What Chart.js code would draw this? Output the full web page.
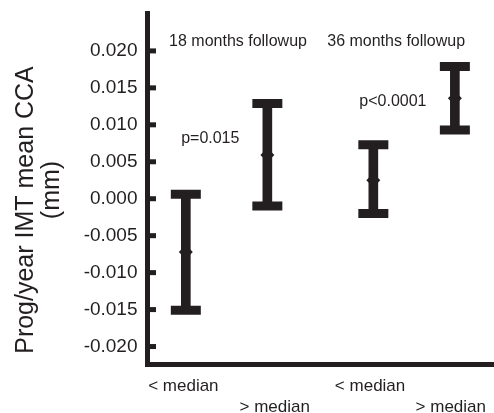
<!DOCTYPE html>
<html>
<head>
<meta charset="utf-8">
<script src="https://cdn.jsdelivr.net/npm/chart.js@4"></script>
<style>
  body { margin: 0; background: #fff; }
  canvas { display: block; }
</style>
</head>
<body>
<canvas id="chart" width="494" height="413"></canvas>
<script>
const ink = "#231f20";
const family = "'Liberation Sans', Arial, sans-serif";

// four groups: below / above median, 18 and 36 months followup
const xLabels = ["< median", "> median", "< median", "> median"];
const xPos = [1, 2, 3.3, 4.3];
const labelPos = [0.97, 2.09, 3.26, 4.25];
const means = [-0.0072, 0.0059, 0.0025, 0.0136];
const lows = [-0.0151, -0.0010, -0.0020, 0.0093];
const highs = [0.0006, 0.0129, 0.0073, 0.0179];
const yTicks = [-0.020, -0.015, -0.010, -0.005, 0, 0.005, 0.010, 0.015, 0.020];

// text notes placed in data units
const noteTexts = ["18 months followup", "36 months followup", "p=0.015", "p<0.0001"];
const noteX = [1.64, 3.58, 1.30, 3.54];
const noteY = [0.0213, 0.0213, 0.0082, 0.0132];

const yTitle = ["Prog/year IMT mean CCA", "(mm)"];

Chart.defaults.font.family = family;
Chart.defaults.color = ink;

const extras = {
  id: "extras",
  afterDraw(chart) {
    const { ctx, scales: { x, y } } = chart;
    ctx.save();
    ctx.fillStyle = ink;
    // tick marks point inwards
    yTicks.forEach(v => {
      const py = y.getPixelForValue(v);
      ctx.fillRect(x.left + 2.5, py - 2.5, 6, 5);
    });
    ctx.fillRect(x.left - 2.5, y.bottom - 2.5, 5, 5);

    ctx.font = "16px " + family;
    ctx.textAlign = "center";
    ctx.textBaseline = "middle";
    noteTexts.forEach((t, i) => {
      ctx.fillText(t, x.getPixelForValue(noteX[i]), y.getPixelForValue(noteY[i]));
    });

    ctx.font = "25px " + family;
    ctx.textBaseline = "alphabetic";
    ctx.save();
    ctx.translate(33, 210);
    ctx.rotate(-Math.PI / 2);
    ctx.fillText(yTitle[0], 0, 0);
    ctx.restore();
    ctx.save();
    ctx.translate(59, 190);
    ctx.rotate(-Math.PI / 2);
    ctx.fillText(yTitle[1], 0, 0);
    ctx.restore();
    ctx.restore();
  }
};

new Chart(document.getElementById("chart"), {
  type: "bar",
  data: {
    datasets: [
      {
        type: "scatter",
        data: xPos.map((x, i) => ({ x, y: means[i] })),
        pointStyle: "rectRot",
        radius: 7,
        borderWidth: 0,
        backgroundColor: ink,
        order: 0
      },
      {
        type: "scatter",
        data: xPos.flatMap((x, i) => [{ x, y: lows[i] }, { x, y: highs[i] }]),
        pointStyle: "line",
        radius: 15,
        borderWidth: 9,
        borderColor: ink,
        order: 1
      },
      {
        type: "bar",
        data: xPos.map((x, i) => ({ x, y: [lows[i], highs[i]] })),
        backgroundColor: ink,
        barThickness: 9,
        order: 2
      }
    ]
  },
  options: {
    responsive: false,
    animation: false,
    events: [],
    layout: { autoPadding: false, padding: { top: 13, right: 0, left: 0, bottom: 0 } },
    plugins: { legend: { display: false }, tooltip: { enabled: false } },
    scales: {
      x: {
        type: "linear",
        min: 0.53,
        max: 4.78,
        offset: false,
        grid: { display: false, drawTicks: false },
        border: { display: true, width: 5, color: ink },
        afterFit: s => { s.height = 48.5; s.paddingLeft = 0; s.paddingRight = 0; },
        afterBuildTicks: s => { s.ticks = labelPos.map(v => ({ value: v })); },
        ticks: {
          autoSkip: false,
          maxRotation: 0,
          padding: 11,
          font: { size: 17, lineHeight: 21 / 17 },
          callback: (v, i) => (i % 2 === 0 ? [xLabels[i], ""] : ["", xLabels[i]])
        }
      },
      y: {
        min: -0.02243,
        max: 0.02513,
        grid: { display: false, drawTicks: false },
        border: { display: true, width: 5, color: ink },
        afterFit: s => { s.width = 147.5; s.paddingTop = 0; s.paddingBottom = 0; },
        afterBuildTicks: s => { s.ticks = yTicks.map(v => ({ value: v })); },
        ticks: {
          padding: 10,
          font: { size: 19 },
          callback: v => v.toFixed(3)
        }
      }
    }
  },
  plugins: [extras]
});
</script>
</body>
</html>
